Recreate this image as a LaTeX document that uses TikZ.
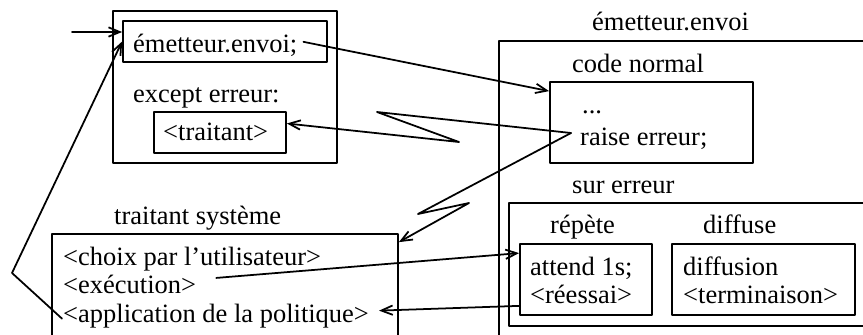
\documentclass[tikz,border=0pt]{standalone}
\usepackage{fontspec}
\setmainfont{Liberation Serif}
\usetikzlibrary{arrows.meta,fit,calc}
\tikzset{
    boite/.style={draw, line width=1.5pt, inner sep=0pt},
    texte/.style={anchor=base west, inner sep=0pt},
    fleche/.style={line width=1.5pt, -{Straight Barb[length=3.4mm,width=2.8mm]}}
}

\begin{document}
\begin{tikzpicture}[x=0.03cm, y=-0.03cm, line cap=round, line join=round, font=\fontsize{22.6}{26}\selectfont]
\useasboundingbox (0,0) rectangle (863,335);
\clip (0,0) rectangle (863,335);
% appelant
\node[boite, fit={(113,11) (337,163)}] (appel) {};
\node[boite, fit={(123,21) (327,62)}] (envoibox) {};
\node[boite, fit={(154,112) (286,153)}] (traitantbox) {};
\node[texte] (tenvoi) at (133,52) {émetteur.envoi;};
\node[texte] (texcept) at (133,102) {except erreur:};
\node[texte] (ttraitant) at (163,140) {<traitant>};
% emetteur
\node[texte] (temetteur) at (592,30) {émetteur.envoi};
\node[boite, fit={(499,41) (900,400)}] (emetteur) {};
\node[texte] (tnormal) at (572,72) {code normal};
\node[boite, fit={(550,82) (753,163)}] (normalbox) {};
\node[texte] (tpoints) at (582,113) {...};
\node[texte] (traise) at (580,145) {raise erreur;};
\node[texte] (tsur) at (572,193) {sur erreur};
\node[boite, fit={(509,203) (900,326)}] (surbox) {};
\node[texte] (trepete) at (550,233) {répète};
\node[texte] (tdiffuse) at (703,233) {diffuse};
\node[boite, fit={(520,244) (652,315)}] (repetebox) {};
\node[boite, fit={(672,244) (855,315)}] (diffusebox) {};
\node[texte] (tattend) at (530,275) {attend 1s;};
\node[texte] (treessai) at (530,303) {<réessai>};
\node[texte] (tdiffusion) at (683,275) {diffusion};
\node[texte] (tterminaison) at (683,303) {<terminaison>};
% traitant systeme
\node[texte] (tsysteme) at (114,224) {traitant système};
\node[boite, fit={(52,234) (398,400)}] (systbox) {};
\node[texte] (tchoix) at (63,265) {<choix par l’utilisateur>};
\node[texte] (texec) at (63,293) {<exécution>};
\node[texte] (tappli) at (63,322) {<application de la politique>};
% fleches
\coordinate (entree) at (72,32);
\coordinate (leve) at (571,133);
\coordinate (coin) at (12,273);
\draw[fleche] (entree) -- (entree -| envoibox.west);
\draw[fleche] ($(tenvoi.east)+(6,-3)$) -- ($(normalbox.north west)+(0,10)$);
\draw[fleche] (leve) -- (377,112) -- (459,142) -- ($(traitantbox.east)+(0,-9)$);
\draw[fleche] (leve) -- (418,214) -- (469,203) -- ($(systbox.north east)+(0,9)$);
\draw[fleche] ($(texec.east)+(20,-6)$) -- ($(repetebox.north west)+(0,10)$);
\draw[fleche] ($(repetebox.south west)+(0,-10)$) -- ($(tappli.east)+(10,-5)$);
\draw[fleche] ($(tappli.west)+(-1,3)$) -- (coin) -- (envoibox.west);
\end{tikzpicture}
\end{document}
